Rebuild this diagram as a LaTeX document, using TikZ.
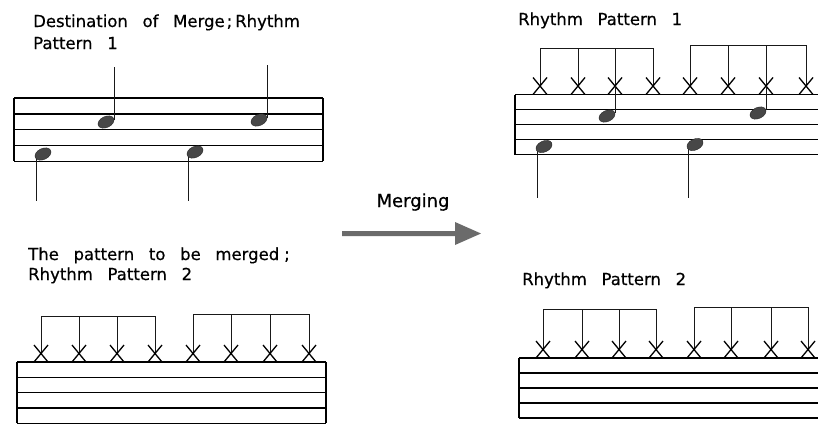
\documentclass[tikz,border=0pt]{standalone}
\usepackage{fontspec}
\setmainfont{DejaVu Sans}[WordSpace={2.8,1,1}, FakeBold=0.6]
\begin{document}
\begin{tikzpicture}[x=1pt,y=-1pt,
  staffline/.style={line width=1.4pt, black},
  stemline/.style={line width=1pt, black!90},
  xmark/.style={line width=1.3pt, black},
  lbl/.style={anchor=base west, inner sep=0pt, font=\fontsize{16.5}{18}\selectfont},
  nhead/.style={fill=black!72, draw=black!85, line width=0.4pt}]
\useasboundingbox (0,0) rectangle (818,424);
\clip (0,0) rectangle (818,424);

% ---------- texts ----------
\node[lbl] (t1a) at (33,27) {Destination of Merge\kern2pt;\kern3pt Rhythm};
\node[lbl] (t1b) at (33,49) {Pattern 1};
\node[lbl] (t2a) at (28,260) {The pattern to be merged\kern5pt;};
\node[lbl] (t2b) at (28,280) {Rhythm Pattern 2};
\node[lbl] (t3) at (518,25) {Rhythm Pattern 1};
\node[lbl] (t4) at (522,285) {Rhythm Pattern 2};
\node[anchor=base, inner sep=0pt, font=\fontsize{18}{20}\selectfont] (mg) at (413,207) {Merging};

% ---------- merging arrow ----------
\fill[black!58] (342,231) -- (455,231) -- (455,222) -- (481,233.5) -- (455,245) -- (455,236) -- (342,236) -- cycle;

% ---------- staves ----------
% top-left
\foreach \i in {0,...,4} \draw[staffline] (14,98+15.8*\i) -- (323,98+15.8*\i);
\draw[staffline] (14,98) -- (14,161.2) (323,98) -- (323,161.2);
% bottom-left
\foreach \i in {0,...,4} \draw[staffline] (17,362+15.3*\i) -- (326,362+15.3*\i);
\draw[staffline] (17,362) -- (17,423.2) (326,362) -- (326,423.2);
% top-right
\foreach \i in {0,...,4} \draw[staffline] (515,94.5+15*\i) -- (830,94.5+15*\i);
\draw[staffline] (515,94.5) -- (515,154.5);
% bottom-right
\foreach \i in {0,...,4} \draw[staffline] (519,358+15*\i) -- (830,358+15*\i);
\draw[staffline] (519,358) -- (519,418);

% ---------- rhythm patterns ----------
% bottom-left (staff top 362)
\draw[stemline] (41,353.5) |- (155,316) -- (155,353.5);
\draw[stemline] (193,353.5) |- (309,314) -- (309,353.5);
\foreach \x in {79,117} \draw[stemline] (\x,316) -- (\x,353.5);
\foreach \x in {231,270} \draw[stemline] (\x,314) -- (\x,353.5);
\foreach \x in {41,79,117,155,193,231,270,309}
  \draw[xmark] (\x-7,345) -- (\x+7,362) (\x+7,345) -- (\x-7,362);

% top-right (staff top 94.5)
\draw[stemline] (540,86) |- (653,48) -- (653,86);
\draw[stemline] (690,86) |- (806,45) -- (806,86);
\foreach \x in {578,615} \draw[stemline] (\x,48) -- (\x,86);
\foreach \x in {728,766} \draw[stemline] (\x,45) -- (\x,86);
\foreach \x in {540,578,615,653,690,728,766,806}
  \draw[xmark] (\x-7,77.5) -- (\x+7,94.5) (\x+7,77.5) -- (\x-7,94.5);

% bottom-right (staff top 358)
\draw[stemline] (543,349.5) |- (656,309) -- (656,349.5);
\draw[stemline] (694,349.5) |- (808,307) -- (808,349.5);
\foreach \x in {582,619} \draw[stemline] (\x,309) -- (\x,349.5);
\foreach \x in {731,771} \draw[stemline] (\x,307) -- (\x,349.5);
\foreach \x in {543,582,619,656,694,731,771,808}
  \draw[xmark] (\x-7,341) -- (\x+7,358) (\x+7,341) -- (\x-7,358);

% ---------- notes: top-left ----------
\draw[stemline] (114,67) -- (114,120);
\draw[stemline] (267,65) -- (267,118);
\draw[stemline] (36,156) -- (36,201);
\draw[stemline] (188,153) -- (188,201);
\path[nhead, rotate around={25:(106,122)}] (106,122) ellipse [x radius=8.5, y radius=5.5];
\path[nhead, rotate around={25:(259,120)}] (259,120) ellipse [x radius=8.5, y radius=5.5];
\path[nhead, rotate around={25:(43,154)}] (43,154) ellipse [x radius=8.5, y radius=5.5];
\path[nhead, rotate around={25:(195,152)}] (195,152) ellipse [x radius=8.5, y radius=5.5];

% ---------- notes: top-right ----------
\draw[stemline] (615,86) -- (615,113);
\draw[stemline] (766,86) -- (766,110);
\draw[stemline] (537,148) -- (537,198);
\draw[stemline] (688,146) -- (688,198);
\path[nhead, rotate around={25:(607,116)}] (607,116) ellipse [x radius=8.5, y radius=5.5];
\path[nhead, rotate around={25:(758,113)}] (758,113) ellipse [x radius=8.5, y radius=5.5];
\path[nhead, rotate around={25:(544,146.5)}] (544,146.5) ellipse [x radius=8.5, y radius=5.5];
\path[nhead, rotate around={25:(695,144.5)}] (695,144.5) ellipse [x radius=8.5, y radius=5.5];
\end{tikzpicture}
\end{document}
